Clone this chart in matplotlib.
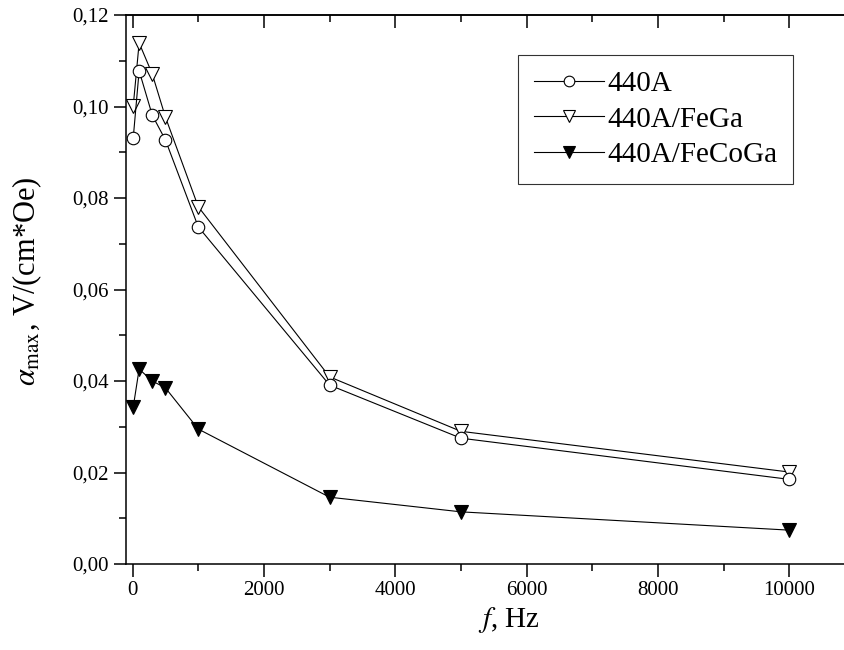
import matplotlib
import numpy as np
from matplotlib import pyplot as plt
from matplotlib.ticker import FuncFormatter, MultipleLocator

matplotlib.use('Agg')
plt.rc('font', family='Liberation Serif')
plt.rc('mathtext', fontset='stix')

freq = [10, 100, 300, 500, 1000, 3000, 5000, 10000]
alpha_440a = [0.0931, 0.1078, 0.0981, 0.0927, 0.0737, 0.0391, 0.0275, 0.0185]
alpha_fega = [0.1001, 0.1139, 0.1071, 0.0977, 0.0781, 0.0409, 0.0290, 0.0201]
alpha_fecoga = [0.0343, 0.0426, 0.0400, 0.0385, 0.0295, 0.0146, 0.0114, 0.0074]
labels = ['440A', '440A/FeGa', '440A/FeCoGa']


def main():
    fig = plt.figure(figsize=(8.45, 6.5), dpi=100)
    ax = fig.add_axes([126 / 845, 86 / 650, 729 / 845, 549 / 650])

    ax.plot(freq, alpha_440a, color='black', lw=0.8, marker='o', ms=9,
            mfc='white', mec='black', mew=0.8, label=labels[0], zorder=3)
    ax.plot(freq, alpha_fega, color='black', lw=0.8, marker='v', ms=10,
            mfc='white', mec='black', mew=0.8, label=labels[1], zorder=2)
    ax.plot(freq, alpha_fecoga, color='black', lw=0.8, marker='v', ms=10,
            mfc='black', mec='black', mew=0.8, label=labels[2], zorder=2)

    ax.set_xlim(-100, 11000)
    ax.set_ylim(0, 0.12)
    ax.xaxis.set_major_locator(MultipleLocator(2000))
    ax.xaxis.set_minor_locator(MultipleLocator(1000))
    ax.yaxis.set_major_locator(MultipleLocator(0.02))
    ax.yaxis.set_minor_locator(MultipleLocator(0.01))
    ax.yaxis.set_major_formatter(FuncFormatter(lambda v, p: '{:.2f}'.format(v).replace('.', ',')))
    ax.tick_params(which='both', direction='out', labelsize=15, width=1.1, top=False, right=False)
    ax.tick_params(which='major', length=9)
    ax.tick_params(which='minor', length=5)
    for s in ax.spines.values():
        s.set_linewidth(1.1)
    ax.spines['right'].set_visible(False)

    top = ax.secondary_xaxis('top')
    top.xaxis.set_major_locator(MultipleLocator(2000))
    top.xaxis.set_minor_locator(MultipleLocator(1000))
    top.tick_params(which='both', direction='in', labeltop=False, width=1.1)
    top.tick_params(which='major', length=9)
    top.tick_params(which='minor', length=5)
    top.spines['top'].set_linewidth(1.1)

    ax.set_xlabel(r'$f$, Hz', fontsize=21)
    ax.xaxis.set_label_coords((509 - 126) / 729, -41 / 549)
    ax.set_ylabel(r'$\alpha_{\rm max}$, V/(cm*Oe)', fontsize=22)
    ax.yaxis.set_label_coords(-82 / 729, 0.515)

    leg = ax.legend(loc='upper left', bbox_to_anchor=((518 - 126) / 729, (650 - 55 - 86) / 549),
                    fontsize=21, frameon=True, fancybox=False, edgecolor='black',
                    handlelength=2.4, labelspacing=0.3, borderpad=0.55, handletextpad=0.1,
                    borderaxespad=0, markerscale=0.85)
    leg.get_frame().set_linewidth(0.8)

    plt.savefig('out.png', dpi=100)
    plt.close()


if __name__ == '__main__':
    main()
